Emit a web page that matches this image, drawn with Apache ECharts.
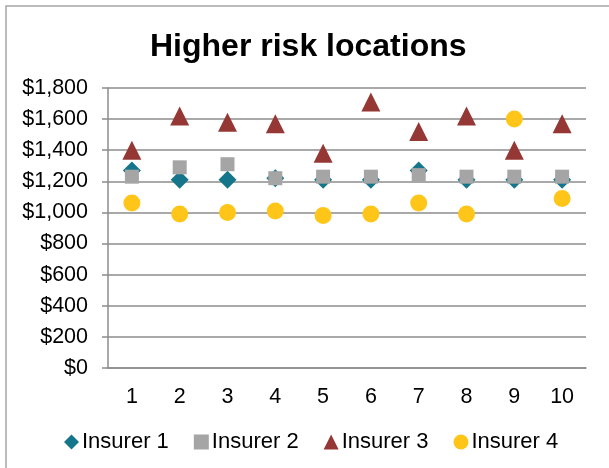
<!DOCTYPE html>
<html>
<head>
<meta charset="utf-8">
<title>Higher risk locations</title>
<script src="https://cdn.jsdelivr.net/npm/echarts@6/dist/echarts.min.js"></script>
<style>
  html, body { margin: 0; padding: 0; background: #ffffff; }
  #chart { width: 609px; height: 468px; }
</style>
</head>
<body>
<div id="chart"></div>
<script>
// Location numbers along the x axis
const locations = ['1', '2', '3', '4', '5', '6', '7', '8', '9', '10'];

// Premium quoted by each insurer at each location (dollars)
const insurer1 = [1270, 1210, 1210, 1220, 1210, 1210, 1270, 1210, 1210, 1210];
const insurer2 = [1230, 1290, 1310, 1220, 1230, 1230, 1240, 1230, 1230, 1230];
const insurer3 = [1400, 1620, 1580, 1570, 1380, 1710, 1520, 1620, 1400, 1570];
const insurer4 = [1060, 990, 1000, 1010, 980, 990, 1060, 990, 1600, 1090];

const seriesNames = ['Insurer 1', 'Insurer 2', 'Insurer 3', 'Insurer 4'];

const FONT = '"Liberation Sans", Arial, sans-serif';

const chart = echarts.init(document.getElementById('chart'), null, { renderer: 'canvas' });

const styles = [
  { symbol: 'diamond',  size: 18, color: '#15768B' },
  { symbol: 'rect',     size: 14, color: '#A5A5A5' },
  { symbol: 'triangle', size: 19, color: '#953735' },
  { symbol: 'circle',   size: 17, color: '#FFC619' }
];
const values = [insurer1, insurer2, insurer3, insurer4];

chart.setOption({
  animation: false,
  backgroundColor: '#ffffff',
  graphic: [{
    type: 'rect',
    shape: { x: 6, y: 6, width: 700, height: 700 },
    style: { fill: 'none', stroke: '#a6a6a6', lineWidth: 1.5 },
    silent: true,
    z: -10
  }],
  title: {
    text: 'Higher risk locations',
    left: 145,
    top: 26,
    textStyle: { fontFamily: FONT, fontSize: 32, fontWeight: 'bold', color: '#000000' }
  },
  legend: {
    left: 59,
    top: 426,
    itemWidth: 15,
    itemHeight: 15,
    itemGap: 25,
    textStyle: { fontFamily: FONT, fontSize: 22, color: '#000000', padding: [0, 0, 0, -2] },
    data: seriesNames.map((n, i) => ({ name: n, icon: styles[i].symbol }))
  },
  grid: { left: 108, right: 23, top: 88, bottom: 100 },
  xAxis: {
    type: 'category',
    data: locations,
    boundaryGap: true,
    axisLine: { lineStyle: { color: '#8c8c8c', width: 1.5 } },
    axisTick: { length: 7, lineStyle: { color: '#8c8c8c', width: 1.5 } },
    axisLabel: { margin: 18, fontFamily: FONT, fontSize: 21.5, color: '#000000' },
    splitLine: { show: false }
  },
  yAxis: {
    type: 'value',
    min: 0,
    max: 1800,
    interval: 200,
    axisLine: { show: true, lineStyle: { color: '#8c8c8c', width: 1.5 } },
    axisTick: { show: true, length: 6, lineStyle: { color: '#8c8c8c', width: 1.5 } },
    axisLabel: {
      margin: 20,
      fontFamily: FONT,
      fontSize: 21.5,
      color: '#000000',
      formatter: v => '$' + v.toLocaleString('en-US')
    },
    splitLine: { lineStyle: { color: '#8c8c8c', width: 1.5 } }
  },
  series: seriesNames.map((n, i) => ({
    name: n,
    type: 'scatter',
    symbol: styles[i].symbol,
    symbolSize: styles[i].size,
    itemStyle: { color: styles[i].color, opacity: 1 },
    data: values[i],
    z: 2 + i
  }))
});
</script>
</body>
</html>
